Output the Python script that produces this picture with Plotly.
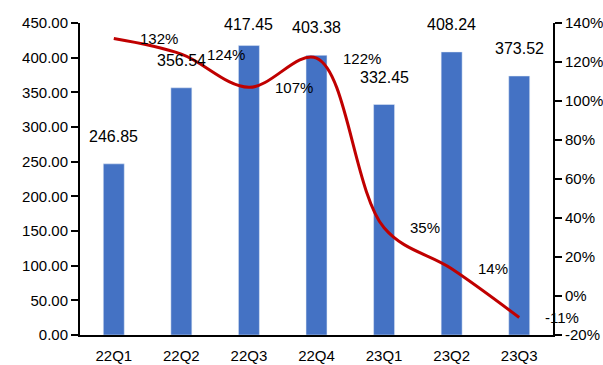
import plotly.graph_objects as go

# Quarterly values (bars, left axis) and growth rate (line, right axis)
quarters = ["22Q1", "22Q2", "22Q3", "22Q4", "23Q1", "23Q2", "23Q3"]
revenue = [246.85, 356.54, 417.45, 403.38, 332.45, 408.24, 373.52]
growth_pct = [132, 124, 107, 122, 35, 14, -11]

left_ticks = [0, 50, 100, 150, 200, 250, 300, 350, 400, 450]
right_ticks = [-20, 0, 20, 40, 60, 80, 100, 120, 140]

FONT = "Liberation Sans, Arial, sans-serif"
BAR_COLOR = "#4472C4"
LINE_COLOR = "#C00000"

WIDTH, HEIGHT = 603, 365
MARGIN = dict(l=80, r=50, t=23, b=30)
Y_MAX = 450

fig = go.Figure()

fig.add_trace(go.Bar(
    x=quarters, y=revenue, marker_color=BAR_COLOR, width=0.31,
    hoverinfo="skip", showlegend=False,
))

fig.add_trace(go.Scatter(
    x=quarters, y=growth_pct, yaxis="y2", mode="lines",
    line=dict(color=LINE_COLOR, width=3, shape="spline", smoothing=1.0),
    hoverinfo="skip", showlegend=False,
))

# pixel scale of the left axis, used to keep tall bar labels inside the chart
plot_h = HEIGHT - MARGIN["t"] - MARGIN["b"]
px_per_unit = plot_h / Y_MAX
LABEL_GAP = 17      # preferred gap between bar top and label bottom
LABEL_MIN_BOTTOM = 35  # label bottom may not rise above this pixel row

annotations = []
# value labels above each bar
for q, v in zip(quarters, revenue):
    bar_top_px = MARGIN["t"] + (Y_MAX - v) * px_per_unit
    shift = min(LABEL_GAP, bar_top_px - LABEL_MIN_BOTTOM)
    annotations.append(dict(
        x=q, y=v, xref="x", yref="y", text=f"{v:.2f}", showarrow=False,
        yanchor="bottom", yshift=shift, font=dict(family=FONT, size=16, color="#000"),
    ))
# growth labels to the right of each line point
for q, g in zip(quarters, growth_pct):
    annotations.append(dict(
        x=q, y=g, xref="x", yref="y2", text=f"{g}%", showarrow=False,
        xanchor="left", xshift=24, yanchor="middle",
        font=dict(family=FONT, size=15, color="#000"),
    ))

fig.update_layout(
    width=WIDTH, height=HEIGHT,
    margin=MARGIN,
    paper_bgcolor="white", plot_bgcolor="white",
    font=dict(family=FONT, size=14, color="#000"),
    annotations=annotations,
    xaxis=dict(
        range=[-0.5, len(quarters) - 0.5],
        showline=True, linecolor="#000", linewidth=2, ticks="",
        showgrid=False, tickfont=dict(size=15), ticklabelstandoff=6,
        automargin=False,
    ),
    yaxis=dict(
        range=[0, Y_MAX], tickvals=left_ticks, tickformat=".2f",
        showline=True, linecolor="#000", linewidth=2,
        ticks="outside", ticklen=7, tickwidth=2, tickcolor="#000",
        showgrid=False, zeroline=False, tickfont=dict(size=15),
        automargin=False,
    ),
    yaxis2=dict(
        range=[-20, 140], tickvals=right_ticks,
        ticktext=[f"{t}%" for t in right_ticks],
        overlaying="y", side="right",
        showline=True, linecolor="#000", linewidth=2,
        ticks="outside", ticklen=7, tickwidth=2, tickcolor="#000",
        showgrid=False, zeroline=False, tickfont=dict(size=15),
        automargin=False,
    ),
)

fig.write_html("out.html")
